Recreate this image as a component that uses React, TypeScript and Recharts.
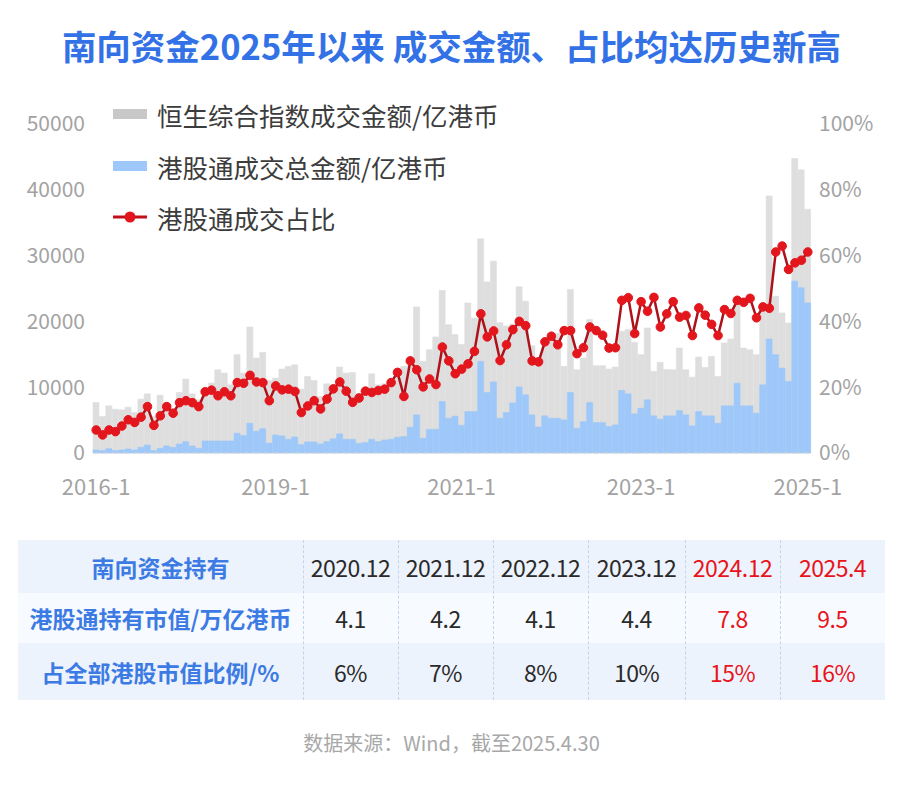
import { ComposedChart, Bar, Line, XAxis, YAxis } from 'recharts';

const FONT = '"Noto Sans CJK SC", "Noto Sans", sans-serif';

// monthly categories, 2016-1 .. 2025-4
const months: string[] = [];
for (let i = 0; i < 112; i++) {
  months.push(`${2016 + Math.floor(i / 12)}-${(i % 12) + 1}`);
}

const tickMonths = ['2016-1', '2018-5', '2020-10', '2023-2', '2025-4'];
const tickLabels = ['2016-1', '2019-1', '2021-1', '2023-1', '2025-1'];

// 恒生综合指数成交金额/亿港币
const hsciTurnover = [
  7670, 5540, 7160, 6650, 6550, 6960, 6150, 8180, 8990, 5540, 8790, 7420, 6650, 9190, 11230, 8990, 8080, 9860, 10620, 12650, 12140, 10360, 14935, 12140, 19150, 14430, 15290, 11000,
  11380, 12750, 13160, 13410, 9700, 11630, 11020, 8590, 10520, 10110, 13060, 12140, 12240, 9090, 9860, 12040, 10360, 10520, 11130, 12140, 13160, 13260, 22200, 13920, 15700, 17630, 24690, 19500,
  18000, 16500, 22800, 20500, 32560, 26000, 29160, 19800, 19300, 19600, 25250, 23060, 16300, 14500, 16460, 17730, 18200, 13160, 24850,
  12650, 14430, 20270, 13260, 13260, 12750, 13060, 18500, 18750, 16820, 14940, 19000, 12400, 13770, 12700, 12650, 15950, 12650, 11530, 14580, 13010, 14680, 11630, 16720, 17320, 23070, 15950, 15700, 14940, 22810, 39070, 23830, 21290, 19760, 44760, 43030, 37040,
];

// 港股通成交总金额/亿港币
const sbTurnover = [
  460, 360, 660, 360, 460, 610, 460, 860, 1220, 360, 710, 1070, 860, 1370, 1730, 1070, 710, 1830, 1830, 1830, 1830, 1830, 3000, 2650, 4520, 3300, 3700, 1500,
  2740, 2590, 2080, 2440, 1270, 1680, 1680, 1370, 1730, 2150, 2900, 2080, 2080, 1470, 1575, 2080, 1730, 1980, 2080, 2390, 2490, 3910, 5790, 2235, 3600, 3600, 7820, 5280,
  5600, 4200, 6300, 6300, 13920, 9190, 10800, 5280, 6150, 7600, 10050, 8840, 5790, 3960, 5640, 5280, 5280, 5030, 9190,
  3760, 4780, 7670, 4620, 4620, 4010, 4270, 9500, 8990, 5940, 6810, 8080, 5640, 5130, 5640, 5640, 6450, 5790, 4120, 6300, 5640, 5640, 4520, 7160, 7160, 10600, 7160, 7160, 6050, 10360, 17320, 14940, 12900, 10870, 26120, 25100, 22810,
];

// 港股通成交占比 %
const sbRatio = [
  7.0, 5.5, 7.0, 6.5, 8.2, 10.1, 9.3, 10.9, 14.1, 8.4, 11.3, 14.1, 12.1, 15.3, 15.9, 15.3, 14.1, 18.6, 19.1, 17.4, 18.6, 17.4, 21.4, 21.2, 23.6, 21.6, 21.4, 15.9,
  20.4, 19.2, 19.4, 18.7, 12.3, 14.3, 15.9, 13.4, 16.4, 19.5, 21.6, 18.8, 15.4, 16.7, 18.8, 18.4, 19.0, 19.4, 21.4, 24.5, 17.2, 28.0, 25.3, 20.1, 22.5, 20.8, 32.2, 28.0,
  24.1, 25.5, 27.1, 30.9, 42.3, 35.3, 37.1, 28.1, 32.9, 37.5, 40.0, 38.7, 28.0, 27.7, 33.8, 35.5, 32.9, 37.2, 37.2,
  30.2, 32.0, 38.3, 37.2, 35.8, 31.9, 32.0, 46.4, 47.2, 36.3, 46.0, 43.1, 47.3, 38.3, 42.3, 46.0, 41.3, 41.8, 35.7, 44.1, 41.9, 39.1, 35.7, 43.6, 42.4, 46.4, 45.8, 47.0, 41.1, 44.4, 44.0, 61.1, 62.9, 55.8, 57.8, 58.6, 61.1,
];

// table
const tableHead = '南向资金持有';
const tableDates = ['2020.12', '2021.12', '2022.12', '2023.12', '2024.12', '2025.4'];
const holdingLabel = '港股通持有市值/万亿港币';
const holdingValues = ['4.1', '4.2', '4.1', '4.4', '7.8', '9.5'];
const shareLabel = '占全部港股市值比例/%';
const shareValues = ['6%', '7%', '8%', '10%', '15%', '16%'];
const highlightCols = [4, 5];

const chartData = months.map((m, i) => ({
  month: m,
  hsci: hsciTurnover[i],
  sb: sbTurnover[i],
  ratio: sbRatio[i],
}));

const GREY = '#dedede';
const BLUE = '#9dc8f9';
const RED = '#e3161d';
const TITLE_BLUE = '#3372e6';

const colWidths = [285, 95, 95, 95, 97, 95, 105];

const LegendRow = ({ top, kind, text }: { top: number; kind: 'grey' | 'blue' | 'line'; text: string }) => (
  <div style={{ position: 'absolute', left: 113, top: top - 16, height: 32, display: 'flex', alignItems: 'center' }}>
    <svg width={36} height={32}>
      {kind === 'grey' && <rect x={0} y={11} width={34} height={10} fill="#c8c8c8" />}
      {kind === 'blue' && <rect x={0} y={11} width={34} height={10} fill={BLUE} />}
      {kind === 'line' && (
        <>
          <line x1={0} y1={16} x2={34} y2={16} stroke="#c0101a" strokeWidth={3} />
          <circle cx={17} cy={16} r={5.5} fill={RED} />
        </>
      )}
    </svg>
    <span style={{ marginLeft: 8, fontSize: 25.5, color: '#3c3c3c', fontFamily: FONT, whiteSpace: 'nowrap' }}>{text}</span>
  </div>
);

const TableRow = ({ label, cells, bg, height }: { label: string; cells: string[]; bg: string; height: number }) => (
  <div style={{ display: 'flex', height, background: bg }}>
    <div style={{ width: colWidths[0], display: 'flex', alignItems: 'center', justifyContent: 'center', color: '#3d7be4', fontWeight: 700, fontSize: 23 }}>
      {label}
    </div>
    {cells.map((c, j) => (
      <div
        key={j}
        style={{
          width: colWidths[j + 1],
          display: 'flex',
          alignItems: 'center',
          justifyContent: 'center',
          fontSize: 23,
          letterSpacing: -0.5,
          color: highlightCols.includes(j) ? '#e8131b' : '#2a2a2a',
        }}
      >
        {c}
      </div>
    ))}
  </div>
);

export default function App() {
  const labelOf: Record<string, string> = {};
  tickMonths.forEach((m, i) => (labelOf[m] = tickLabels[i]));

  let sepX = 0;
  const separators = colWidths.slice(0, -1).map((w) => (sepX += w));

  return (
    <div style={{ position: 'absolute', left: 0, top: 0, width: 903, height: 788, background: '#fff', fontFamily: FONT }}>
      <div
        style={{
          position: 'absolute',
          left: 0,
          top: 21,
          width: 903,
          textAlign: 'center',
          fontSize: 34.5,
          fontWeight: 700,
          color: TITLE_BLUE,
          lineHeight: '48px',
          whiteSpace: 'nowrap',
        }}
      >
        南向资金2025年以来 成交金额、占比均达历史新高
      </div>

      <div style={{ position: 'absolute', left: 0, top: 0 }}>
        <ComposedChart
          width={903}
          height={510}
          data={chartData}
          margin={{ top: 124, right: 22, left: 8, bottom: 17 }}
          barCategoryGap={0}
          barGap={0}
        >
          <XAxis
            xAxisId="main"
            dataKey="month"
            ticks={tickMonths}
            interval={0}
            tickFormatter={(v: string) => labelOf[v] ?? ''}
            tickLine={false}
            axisLine={{ stroke: '#d4d4d4', strokeDasharray: '6 4' }}
            tickMargin={20}
            height={40}
            tick={{ fill: '#a3a3a3', fontSize: 22, fontFamily: FONT }}
          />
          <XAxis xAxisId="overlay" dataKey="month" hide />
          <YAxis
            yAxisId="left"
            domain={[0, 50000]}
            ticks={[0, 10000, 20000, 30000, 40000, 50000]}
            width={85}
            axisLine={false}
            tickLine={false}
            tick={{ fill: '#a3a3a3', fontSize: 21, fontFamily: FONT }}
          />
          <YAxis
            yAxisId="right"
            orientation="right"
            domain={[0, 100]}
            ticks={[0, 20, 40, 60, 80, 100]}
            tickFormatter={(v: number) => `${v}%`}
            width={70}
            axisLine={false}
            tickLine={false}
            tick={{ fill: '#a3a3a3', fontSize: 21, fontFamily: FONT, textAnchor: 'start' }}
          />
          <Bar xAxisId="main" yAxisId="left" dataKey="hsci" fill={GREY} stroke={GREY} strokeWidth={0.6} isAnimationActive={false} />
          <Bar xAxisId="overlay" yAxisId="left" dataKey="sb" fill={BLUE} stroke={BLUE} strokeWidth={0.6} isAnimationActive={false} />
          <Line
            xAxisId="main"
            yAxisId="right"
            type="linear"
            dataKey="ratio"
            stroke="#ad121a"
            strokeWidth={2.5}
            dot={{ r: 4.3, fill: RED, stroke: RED, strokeWidth: 1 }}
            isAnimationActive={false}
          />
        </ComposedChart>
      </div>

      <LegendRow top={114} kind="grey" text="恒生综合指数成交金额/亿港币" />
      <LegendRow top={166} kind="blue" text="港股通成交总金额/亿港币" />
      <LegendRow top={217} kind="line" text="港股通成交占比" />

      <div style={{ position: 'absolute', left: 18, top: 540, width: 867, height: 160 }}>
        <TableRow label={tableHead} cells={tableDates} bg="#edf3fc" height={53} />
        <TableRow label={holdingLabel} cells={holdingValues} bg="#f7fafe" height={50} />
        <TableRow label={shareLabel} cells={shareValues} bg="#edf3fc" height={57} />
        {separators.map((x, k) => (
          <div
            key={k}
            style={{ position: 'absolute', left: x, top: 0, height: 160, borderLeft: '1px dashed #c3d4ea' }}
          />
        ))}
      </div>

      <div
        style={{
          position: 'absolute',
          left: 0,
          top: 728,
          width: 903,
          textAlign: 'center',
          fontSize: 20,
          color: '#a8a8a8',
          lineHeight: '30px',
        }}
      >
        数据来源：Wind，截至2025.4.30
      </div>
    </div>
  );
}
